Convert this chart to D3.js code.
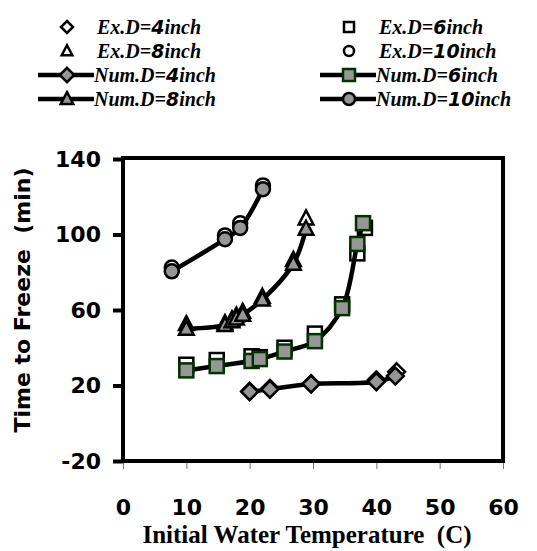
<!DOCTYPE html>
<html>
<head>
<meta charset="utf-8">
<script src="https://cdn.jsdelivr.net/npm/d3@7"></script>
<style>
  body { margin: 0; background: #fff; }
  svg { display: block; }
</style>
</head>
<body>
<div id="chart"></div>
<script>
// experimental (markers only) and numerical (line + markers) series
const exX4 = [20, 23.2, 29.7, 40, 43.2];
const exY4 = [17, 18.5, 21, 23, 27.3];
const numX4 = [20, 23.2, 29.7, 40, 43];
const numY4 = [16.7, 18, 20.8, 22, 25];

const exX6 = [10, 14.8, 20.3, 21.6, 25.5, 30.3, 34.6, 37, 38.2];
const exY6 = [31, 33.5, 35.5, 35, 40, 47.5, 63, 90, 103.5];
const numX6 = [10, 14.8, 20.3, 21.6, 25.5, 30.3, 34.6, 37, 37.9];
const numY6 = [28, 30.3, 33, 34, 38, 43.5, 61, 95, 106];

const exX8 = [10, 16.1, 17.2, 17.9, 18.9, 22, 26.9, 28.9];
const exY8 = [52.5, 53, 55, 57, 59, 67, 86.5, 108.5];
const numX8 = [10, 16.1, 17.2, 17.9, 18.9, 22, 26.9, 28.9];
const numY8 = [50, 52, 54, 55.5, 57.5, 65.5, 84.5, 103];

const exX10 = [7.7, 16.1, 18.5, 22.1];
const exY10 = [82.5, 99.5, 106, 126];
const numX10 = [7.7, 16.1, 18.5, 22.1];
const numY10 = [80.5, 97.5, 103.5, 124];

const xTicks = [0, 10, 20, 30, 40, 50, 60];
const yTicks = [-20, 20, 60, 100, 140];

const width = 537, height = 551;
const svg = d3.select("#chart").append("svg")
    .attr("width", width)
    .attr("height", height);

const x = d3.scaleLinear().domain([0, 60]).range([123, 503]);
const y = d3.scaleLinear().domain([-20, 140]).range([461, 159]);

const grey = "#969696";
const green = "#003300";

// marker shapes, drawn around 0,0
function drawMarker(g, shape, size, fill, stroke, sw) {
    let s = size / 2;
    if (shape == "diamond") {
        g.append("path").attr("d", `M0,${-s * 1.2}L${s * 1.2},0L0,${s * 1.2}L${-s * 1.2},0Z`);
    } else if (shape == "square") {
        g.append("rect").attr("x", -s).attr("y", -s).attr("width", size).attr("height", size);
    } else if (shape == "triangle") {
        g.append("path").attr("d", `M0,${-s * 1.15}L${s * 1.05},${s * 0.85}L${-s * 1.05},${s * 0.85}Z`);
    } else {
        g.append("circle").attr("r", s);
    }
    g.selectAll("*")
        .attr("fill", fill)
        .attr("stroke", stroke)
        .attr("stroke-width", sw)
        .attr("stroke-linejoin", "miter");
}

const series = [
    {exX: exX4, exY: exY4, numX: numX4, numY: numY4, shape: "diamond", mstroke: "#000"},
    {exX: exX6, exY: exY6, numX: numX6, numY: numY6, shape: "square", mstroke: green},
    {exX: exX8, exY: exY8, numX: numX8, numY: numY8, shape: "triangle", mstroke: "#000"},
    {exX: exX10, exY: exY10, numX: numX10, numY: numY10, shape: "circle", mstroke: "#000"}
];

// axes
const yAxis = svg.append("g")
    .attr("transform", `translate(${x(0)},0)`)
    .call(d3.axisLeft(y).tickValues(yTicks).tickSize(10).tickPadding(12).tickFormat(d => String(d)));
yAxis.select(".domain").remove();
yAxis.selectAll(".tick line").attr("stroke", "#000").attr("stroke-width", 4);
yAxis.selectAll(".tick text")
    .attr("fill", "#000")
    .style("font-family", "DejaVu Sans, Verdana, sans-serif")
    .style("font-weight", "bold")
    .style("font-size", "22px");

const xAxis = svg.append("g")
    .attr("transform", `translate(0,${y(-20)})`)
    .call(d3.axisBottom(x).tickValues(xTicks).tickSize(8).tickPadding(30).tickFormat(d => String(d)));
xAxis.select(".domain").remove();
xAxis.selectAll(".tick line").attr("stroke", "#777").attr("stroke-width", 1);
xAxis.selectAll(".tick text")
    .attr("fill", "#000")
    .style("font-family", "DejaVu Sans, Verdana, sans-serif")
    .style("font-weight", "bold")
    .style("font-size", "22px");

// plot frame
svg.append("rect")
    .attr("x", x(0))
    .attr("y", 158)
    .attr("width", x(60) - x(0))
    .attr("height", y(-20) - 158)
    .attr("fill", "none")
    .attr("stroke", "#000")
    .attr("stroke-width", 4);

const line = d3.line()
    .x(d => x(d[0]))
    .y(d => y(d[1]))
    .curve(d3.curveCatmullRom.alpha(0.5));

// experimental markers
series.forEach(s => {
    s.exX.forEach((v, i) => {
        let g = svg.append("g").attr("transform", `translate(${x(v)},${y(s.exY[i])})`);
        drawMarker(g, s.shape, 14, "#fff", "#000", 2.5);
    });
});

// numerical lines
series.forEach(s => {
    svg.append("path")
        .datum(s.numX.map((v, i) => [v, s.numY[i]]))
        .attr("d", line)
        .attr("fill", "none")
        .attr("stroke", "#000")
        .attr("stroke-width", 4.5);
});

// numerical markers
series.forEach(s => {
    s.numX.forEach((v, i) => {
        let g = svg.append("g").attr("transform", `translate(${x(v)},${y(s.numY[i])})`);
        drawMarker(g, s.shape, 14, grey, s.mstroke, 2.5);
    });
});

// axis titles
svg.append("text")
    .attr("transform", "translate(30,300) rotate(-90)")
    .attr("text-anchor", "middle")
    .style("font-family", "DejaVu Sans, Verdana, sans-serif")
    .style("font-weight", "bold")
    .style("font-size", "22px")
    .style("white-space", "pre")
    .text("Time to Freeze  (min)");

svg.append("text")
    .attr("x", 307)
    .attr("y", 543)
    .attr("text-anchor", "middle")
    .style("font-family", "Liberation Serif, Times New Roman, serif")
    .style("font-weight", "bold")
    .style("font-size", "25px")
    .style("white-space", "pre")
    .text("Initial Water Temperature  (C)");

// legend
const legendItems = [
    {label: "Ex.D=", num: "4", shape: "diamond", line: false, col: 0, row: 0, fill: "#fff", stroke: "#000"},
    {label: "Ex.D=", num: "6", shape: "square", line: false, col: 1, row: 0, fill: "#fff", stroke: "#000"},
    {label: "Ex.D=", num: "8", shape: "triangle", line: false, col: 0, row: 1, fill: "#fff", stroke: "#000"},
    {label: "Ex.D=", num: "10", shape: "circle", line: false, col: 1, row: 1, fill: "#fff", stroke: "#000"},
    {label: "Num.D=", num: "4", shape: "diamond", line: true, col: 0, row: 2, fill: grey, stroke: "#000"},
    {label: "Num.D=", num: "6", shape: "square", line: true, col: 1, row: 2, fill: grey, stroke: green},
    {label: "Num.D=", num: "8", shape: "triangle", line: true, col: 0, row: 3, fill: grey, stroke: "#000"},
    {label: "Num.D=", num: "10", shape: "circle", line: true, col: 1, row: 3, fill: grey, stroke: "#000"}
];
const colX = [67, 349];
const rowY = [27, 51, 75, 99];

legendItems.forEach(d => {
    let cx = colX[d.col], cy = rowY[d.row];
    let g = svg.append("g").attr("transform", `translate(${cx},${cy})`);
    if (d.line) {
        g.append("line")
            .attr("x1", -29).attr("x2", 27)
            .attr("stroke", "#000").attr("stroke-width", 4.5);
    }
    let mg = g.append("g");
    drawMarker(mg, d.shape, d.line ? 12 : 10, d.fill, d.stroke, 2.5);
    let t = g.append("text")
        .attr("x", d.line ? 27 : 30)
        .attr("y", 7)
        .style("font-family", "Liberation Serif, Times New Roman, serif")
        .style("font-weight", "bold")
        .style("font-style", "italic")
        .style("font-size", "20px");
    t.append("tspan").text(d.label);
    t.append("tspan")
        .style("font-family", "DejaVu Sans, Verdana, sans-serif")
        .style("font-size", "19px")
        .text(d.num);
    t.append("tspan").text("inch");
});
</script>
</body>
</html>
